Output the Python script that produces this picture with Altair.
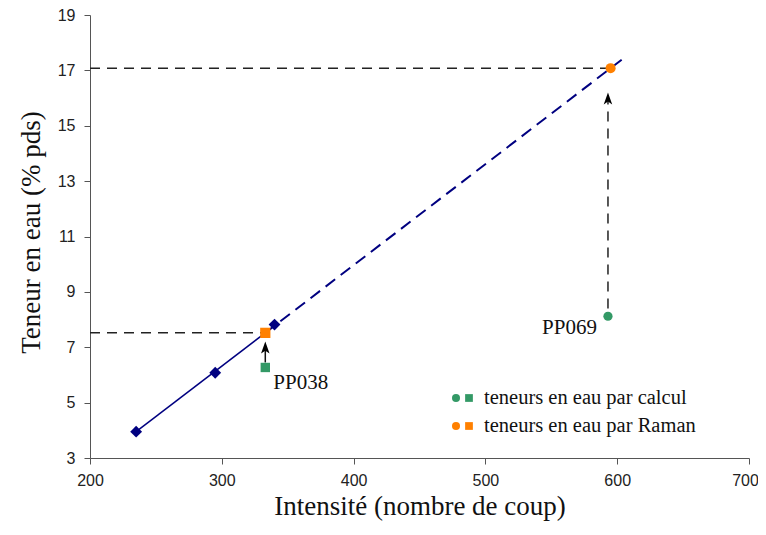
import altair as alt
import pandas as pd

# Calibration points (dark blue diamonds)
calib_x = [235, 295, 340]
calib_y = [3.95, 6.08, 7.82]

# Regression line endpoints (solid part, dashed extrapolation)
fit_solid_x = [235, 333]
fit_solid_y = [3.95, 7.52]
fit_dash_x = [333, 606]
fit_dash_y = [7.52, 17.48]

# Samples
sample_names = ["PP038", "PP069"]
calc_x = [333, 593]
calc_y = [6.27, 8.12]
raman_x = [333, 595]
raman_y = [7.52, 17.08]

# Arrows: shaft start / end, arrowhead centre
arrow_x = [333, 593]
arrow_y0 = [6.45, 8.4]
arrow_y1 = [6.95, 16.0]
arrowhead_y = [6.95, 15.95]

FONT_SERIF = "Liberation Serif"
FONT_SANS = "Liberation Sans"
NAVY = "#000080"
GREEN = "#339966"
ORANGE = "#FF8000"

xs = alt.Scale(domain=[200, 700], nice=False)
ys = alt.Scale(domain=[3, 19], nice=False)

x_axis = alt.Axis(values=[200, 300, 400, 500, 600, 700], title="Intensité (nombre de coup)",
                  grid=False, labelFont=FONT_SANS, labelFontSize=16, labelColor="#222",
                  labelFlush=False, labelOverlap=False,
                  labelOffset={"condition": {"test": "datum.value == 700", "value": -4}, "value": 0},
                  titleFont=FONT_SERIF, titleFontSize=27, titleFontWeight="normal",
                  titleColor="#111", titleBaseline="alphabetic", titleY=56,
                  tickSize=6, labelPadding=8,
                  domainColor="#555", tickColor="#555")
y_axis = alt.Axis(values=[3, 5, 7, 9, 11, 13, 15, 17, 19], title="Teneur en eau (% pds)",
                  grid=False, labelFont=FONT_SANS, labelFontSize=16, labelColor="#222",
                  labelFlush=False, labelOverlap=False,
                  titleFont=FONT_SERIF, titleFontSize=27, titleFontWeight="normal",
                  titleColor="#111", titleBaseline="alphabetic", titleX=-51, titleY=217,
                  titleAlign="center", titleAngle=270,
                  tickSize=6, labelPadding=9,
                  domainColor="#555", tickColor="#555")

# reference dashed lines (horizontal)
href = pd.DataFrame({"x0": [200, 200], "x1": raman_x, "y": raman_y})
h_lines = alt.Chart(href).mark_rule(color="#222", strokeWidth=1.5, strokeDash=[10, 7]).encode(
    x=alt.X("x0:Q", scale=xs, axis=x_axis), x2="x1:Q",
    y=alt.Y("y:Q", scale=ys, axis=y_axis))

solid = alt.Chart(pd.DataFrame({"x": fit_solid_x, "y": fit_solid_y})).mark_line(
    color=NAVY, strokeWidth=1.5).encode(x=alt.X("x:Q", scale=xs), y=alt.Y("y:Q", scale=ys))
dashed = alt.Chart(pd.DataFrame({"x": fit_dash_x, "y": fit_dash_y})).mark_line(
    color=NAVY, strokeWidth=2, strokeDash=[12, 7]).encode(x=alt.X("x:Q", scale=xs), y=alt.Y("y:Q", scale=ys))

diamonds = alt.Chart(pd.DataFrame({"x": calib_x, "y": calib_y})).mark_point(
    shape="diamond", filled=True, color=NAVY, size=140, opacity=1).encode(
    x=alt.X("x:Q", scale=xs), y=alt.Y("y:Q", scale=ys))

arr = pd.DataFrame({"x": arrow_x, "y0": arrow_y0, "y1": arrow_y1, "yh": arrowhead_y, "name": sample_names})
shaft038 = alt.Chart(arr.iloc[[0]]).mark_rule(color="#111", strokeWidth=1.5).encode(
    x=alt.X("x:Q", scale=xs), y=alt.Y("y0:Q", scale=ys), y2="y1:Q")
shaft069 = alt.Chart(arr.iloc[[1]]).mark_rule(color="#222", strokeWidth=1.5, strokeDash=[10, 7]).encode(
    x=alt.X("x:Q", scale=xs), y=alt.Y("y0:Q", scale=ys), y2="y1:Q")
heads = alt.Chart(arr).mark_point(
    shape="M0,-1L0.6,0.7L0,0.3L-0.6,0.7Z", filled=True, color="#000", size=200, opacity=1).encode(
    x=alt.X("x:Q", scale=xs), y=alt.Y("yh:Q", scale=ys))

samp = pd.DataFrame({"name": sample_names, "cx": calc_x, "cy": calc_y, "rx": raman_x, "ry": raman_y})
calc038 = alt.Chart(samp.iloc[[0]]).mark_point(shape="square", filled=True, color=GREEN, size=88, opacity=1).encode(
    x=alt.X("cx:Q", scale=xs), y=alt.Y("cy:Q", scale=ys))
raman038 = alt.Chart(samp.iloc[[0]]).mark_point(shape="square", filled=True, color=ORANGE, size=105, opacity=1).encode(
    x=alt.X("rx:Q", scale=xs), y=alt.Y("ry:Q", scale=ys))
calc069 = alt.Chart(samp.iloc[[1]]).mark_point(shape="circle", filled=True, color=GREEN, size=85, opacity=1).encode(
    x=alt.X("cx:Q", scale=xs), y=alt.Y("cy:Q", scale=ys))
raman069 = alt.Chart(samp.iloc[[1]]).mark_point(shape="circle", filled=True, color=ORANGE, size=100, opacity=1).encode(
    x=alt.X("rx:Q", scale=xs), y=alt.Y("ry:Q", scale=ys))

lab038 = alt.Chart(samp.iloc[[0]]).mark_text(font=FONT_SERIF, fontSize=21, align="left", baseline="middle",
                                             dx=8, dy=16, color="#111").encode(
    x=alt.X("cx:Q", scale=xs), y=alt.Y("cy:Q", scale=ys), text="name:N")
lab069 = alt.Chart(samp.iloc[[1]]).mark_text(font=FONT_SERIF, fontSize=21, align="right", baseline="middle",
                                             dx=-11, dy=12, color="#111").encode(
    x=alt.X("cx:Q", scale=xs), y=alt.Y("cy:Q", scale=ys), text="name:N")

# manual legend
leg_labels = ["teneurs en eau par calcul", "teneurs en eau par Raman"]
leg_colors = [GREEN, ORANGE]
leg = pd.DataFrame({"label": leg_labels, "color": leg_colors, "py": [383, 411]})
leg_circ = alt.Chart(leg).mark_point(shape="circle", filled=True, size=64, opacity=1).encode(
    x=alt.value(366), y=alt.Y("py:Q", scale=None), color=alt.Color("color:N", scale=None))
leg_sq = alt.Chart(leg).mark_point(shape="square", filled=True, size=60, opacity=1).encode(
    x=alt.value(379), y=alt.Y("py:Q", scale=None), color=alt.Color("color:N", scale=None))
leg_txt = alt.Chart(leg).mark_text(font=FONT_SERIF, fontSize=20.5, align="left", baseline="middle", color="#111").encode(
    x=alt.value(394), y=alt.Y("py:Q", scale=None), text="label:N")

chart = alt.layer(h_lines, solid, dashed, shaft038, shaft069, heads, diamonds,
                  calc038, raman038, calc069, raman069, lab038, lab069,
                  leg_circ, leg_sq, leg_txt).properties(
    width=659, height=443,
    autosize=alt.AutoSizeParams(type="none"),
    padding={"left": 82, "top": 7, "right": 9, "bottom": 66},
    background="white",
).configure_view(stroke=None)

chart.save("out.html", embed_options={"renderer": "svg", "actions": False})
